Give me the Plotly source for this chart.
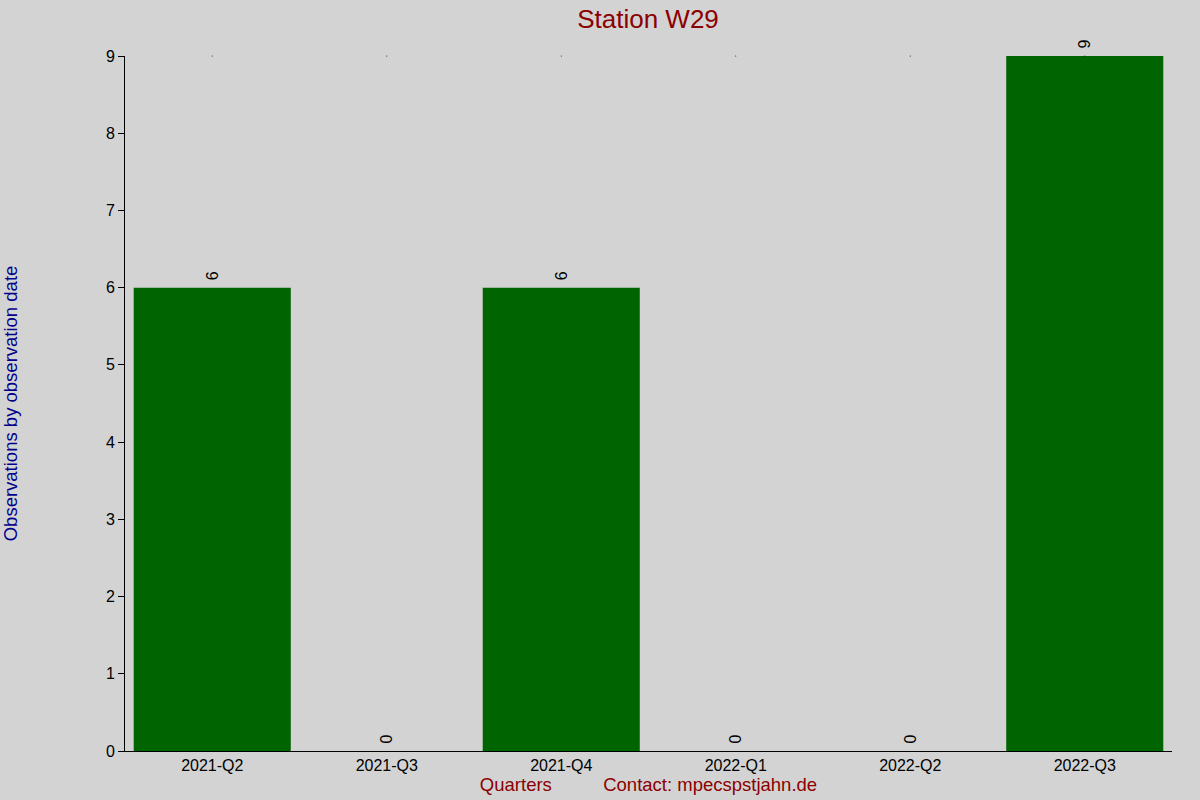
import plotly.graph_objects as go

# data
quarters = ['2021-Q2', '2021-Q3', '2021-Q4', '2022-Q1', '2022-Q2', '2022-Q3']
observations = [6, 0, 6, 0, 0, 9]
y_ticks = list(range(0, 10))

nbsp = '\u00a0'
x_title = 'Quarters' + nbsp * 10 + 'Contact: mpecspstjahn.de'

fig = go.Figure()
fig.add_trace(go.Bar(
    x=quarters,
    y=observations,
    width=0.9,
    marker=dict(color='#006400', line=dict(width=0)),
    # a leading space keeps the rotated label a bit off the bar top
    text=[nbsp + str(v) for v in observations],
    textposition='outside',
    textangle=-90,
    textfont=dict(family='Liberation Sans, Arial', size=16, color='black'),
    cliponaxis=False,
))
# tiny marks along the top edge, one per category
fig.add_trace(go.Scatter(x=quarters, y=[max(y_ticks)] * len(quarters), xaxis='x2',
                         mode='markers', marker=dict(size=1, color='black'),
                         hoverinfo='skip', showlegend=False, cliponaxis=False))

fig.update_layout(
    width=1200, height=800,
    paper_bgcolor='#D3D3D3', plot_bgcolor='#D3D3D3',
    margin=dict(l=125, r=28, t=56, b=49),
    font=dict(family='Liberation Sans, Arial', size=16, color='black'),
    showlegend=False,
    bargap=0.1,
    title=dict(text='Station W29', x=0.54, xanchor='center', y=0.977, yanchor='middle',
               font=dict(size=26, color='#8B0000')),
    xaxis=dict(
        type='category', range=[-0.5, 5.5], automargin=False,
        showline=True, linecolor='black', linewidth=1,
        showgrid=False, ticks='', tickfont=dict(size=16),
        title=dict(text=x_title, font=dict(size=18.5, color='#8B0000'), standoff=4),
    ),
    xaxis2=dict(type='category', range=[-0.5, 5.5], overlaying='x', matches='x',
                visible=False),
    yaxis=dict(
        range=[0, 9], tickvals=y_ticks, automargin=False,
        showline=True, linecolor='black', linewidth=1,
        showgrid=False, zeroline=False,
        ticks='outside', ticklen=6, tickcolor='black',
        tickfont=dict(size=16),
        title=dict(text='Observations by observation date',
                   font=dict(size=18.5, color='#00008B'), standoff=84),
    ),
)

fig.write_html('out.html', config={'displayModeBar': False},
               post_script="document.body.style.margin='0px';")
